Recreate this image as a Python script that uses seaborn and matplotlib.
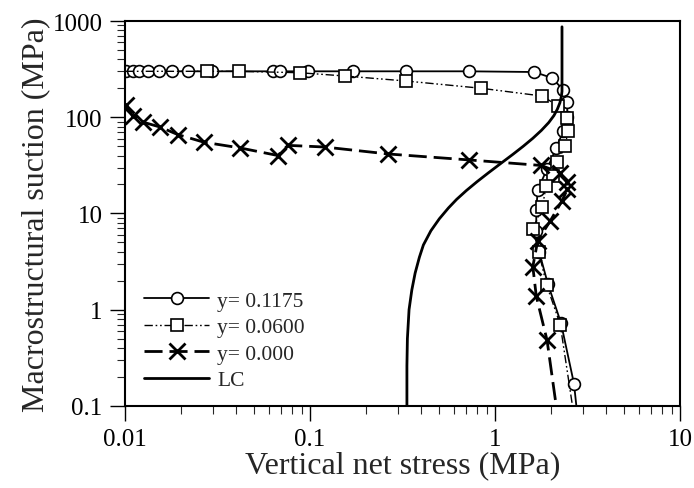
import numpy as np
import pandas as pd
import seaborn as sns
import matplotlib.pyplot as plt

# y = 0.1175 (circles)
c_x = [0.0101, 0.0110, 0.0119, 0.0133, 0.0153, 0.0180, 0.0219, 0.0295, 0.063, 0.069, 0.098, 0.17,
       0.33, 0.72, 1.63, 2.03, 2.34, 2.45, 2.46, 2.34, 2.14, 1.91, 1.70, 1.67, 1.67, 1.73, 1.93,
       2.27, 2.67, 2.75]
c_y = [300, 300, 300, 300, 300, 300, 300, 300, 300, 300, 300, 300,
       300, 300, 295, 256, 192, 144, 100, 72, 48, 29, 17.5, 10.9, 6.6, 4.0, 1.85,
       0.73, 0.17, 0.1]

# y = 0.0600 (squares)
s_x = [0.0101, 0.0278, 0.0413, 0.088, 0.155, 0.33, 0.84, 1.8, 2.19, 2.45, 2.47, 2.4, 2.16, 2.05,
       1.89, 1.8, 1.6, 1.72, 1.9, 2.25, 2.62]
s_y = [300, 300, 300, 290, 268, 238, 200, 166, 131, 99, 72, 50, 34, 24.5,
       19.4, 11.6, 6.9, 4.0, 1.8, 0.7, 0.1]

# y = 0.000 (crosses)
x_x = [0.0101, 0.011, 0.0125, 0.0155, 0.0193, 0.0267, 0.0418, 0.067, 0.076, 0.12, 0.264, 0.72,
       1.78, 2.24, 2.45, 2.46, 2.3, 1.99, 1.7, 1.6, 1.67, 1.91, 2.14]
x_y = [134, 103, 89, 79, 66, 55, 48, 40, 51, 49, 41.5, 36,
       31.5, 26.5, 21, 17.9, 13.5, 8.4, 5.2, 2.8, 1.38, 0.48, 0.1]

# LC curve
lc_x = [0.334, 0.334, 0.336, 0.343, 0.355, 0.37, 0.39, 0.41, 0.45, 0.50, 0.56, 0.62, 0.70, 0.80,
        0.92, 1.07, 1.25, 1.42, 1.6, 1.78, 1.95, 2.08, 2.17, 2.24, 2.28, 2.30, 2.30]
lc_y = [0.1, 0.26, 0.5, 1.0, 1.6, 2.4, 3.5, 4.7, 6.6, 8.8, 11.4, 14, 17.3, 21.4,
        26.4, 32.9, 41.2, 49.9, 60.4, 73, 88, 104, 121, 141, 163, 185, 870]

sns.set_theme(style="ticks")
plt.rcParams['font.family'] = ['Liberation Serif', 'DejaVu Serif']

fig = plt.figure(figsize=(6.94, 4.89), dpi=100)
ax = fig.add_axes([0.180, 0.168, 0.800, 0.787])
ax.set_xscale('log')
ax.set_yscale('log')

sns.lineplot(x=c_x, y=c_y, ax=ax, sort=False, estimator=None, color='black', lw=1.3,
             marker='o', ms=8.5, mfc='white', mec='black', mew=1.2,
             markevery=list(range(0, len(c_x) - 1)), label='y= 0.1175')
sns.lineplot(x=s_x, y=s_y, ax=ax, sort=False, estimator=None, color='black', lw=1.0,
             linestyle=(0, (6, 2, 1.2, 2, 1.2, 2)),
             marker='s', ms=8, mfc='white', mec='black', mew=1.2,
             markevery=list(range(1, len(s_x) - 1)), label='y= 0.0600')
sns.lineplot(x=x_x, y=x_y, ax=ax, sort=False, estimator=None, color='black', lw=2.0,
             linestyle=(0, (6.5, 2.5)), marker='x', ms=11, mew=2.0, mec='black',
             markevery=list(range(len(x_x) - 1)), label='y= 0.000')
sns.lineplot(x=lc_x, y=lc_y, ax=ax, sort=False, estimator=None, color='black', lw=2.0,
             label='LC')

ax.set_xlim(0.01, 10)
ax.set_ylim(0.1, 1000)
ax.set_xticks([0.01, 0.1, 1, 10])
ax.set_xticklabels(['0.01', '0.1', '1', '10'])
ax.set_yticks([0.1, 1, 10, 100, 1000])
ax.set_yticklabels(['0.1', '1', '10', '100', '1000'])
ax.tick_params(which='major', direction='out', length=11, width=1.0, pad=5,
               labelsize=18, colors='black')
ax.tick_params(which='minor', direction='out', length=5.5, width=0.8)
for sp in ax.spines.values():
    sp.set_linewidth(1.5)
    sp.set_color('black')

ax.set_xlabel('Vertical net stress (MPa)', fontsize=23, labelpad=0)
ax.set_ylabel('Macrostructural suction (MPa)', fontsize=23, labelpad=2)

ax.legend(loc='lower left', bbox_to_anchor=(0.0, -0.01), frameon=False, fontsize=15.5,
          handlelength=3.0, labelspacing=0.3, handletextpad=0.4)

fig.savefig('out.png', dpi=100)
